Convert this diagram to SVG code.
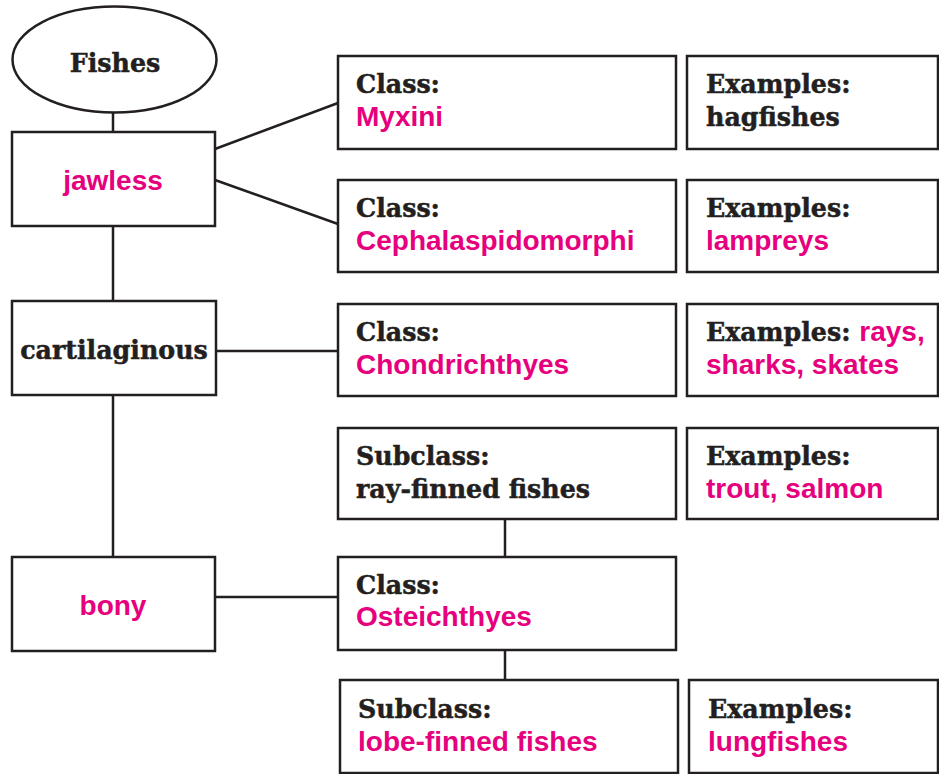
<svg xmlns="http://www.w3.org/2000/svg" width="939" height="774" viewBox="0 0 939 774">
<style>
.b{fill:#fff;stroke:#231f20;stroke-width:2.5}
.c{stroke:#231f20;stroke-width:2.5;fill:none}
.s{font-family:"DejaVu Serif",serif;font-weight:bold;font-size:25.3px;fill:#231f20;stroke:#231f20;stroke-width:0.5}
.p{font-family:"Liberation Sans",Arial,sans-serif;font-weight:bold;font-size:28px;fill:#e6007e}
.m{text-anchor:middle}
</style>
<rect width="939" height="774" fill="#fff"/>
<g id="connectors">
<line class="c" x1="113" y1="112" x2="113" y2="133"/>
<line class="c" x1="113" y1="226" x2="113" y2="301"/>
<line class="c" x1="113" y1="395" x2="113" y2="557"/>
<line class="c" x1="215" y1="149" x2="338" y2="103"/>
<line class="c" x1="215" y1="180" x2="338" y2="224"/>
<line class="c" x1="216" y1="351" x2="338" y2="351"/>
<line class="c" x1="215" y1="597" x2="338" y2="597"/>
<line class="c" x1="505" y1="519" x2="505" y2="557"/>
<line class="c" x1="505" y1="650" x2="505" y2="680"/>
</g>
<g id="fishes">
<ellipse class="b" cx="114.5" cy="59.5" rx="102" ry="53"/>
<text class="s m" x="115" y="72">Fishes</text>
</g>
<g id="jawless">
<rect class="b" x="12" y="132" width="203" height="94"/>
<text class="p m" x="113" y="190">jawless</text>
</g>
<g id="cartilaginous">
<rect class="b" x="12" y="301" width="204" height="94"/>
<text class="s m" x="114" y="359">cartilaginous</text>
</g>
<g id="bony">
<rect class="b" x="12" y="557" width="203" height="94"/>
<text class="p m" x="113" y="615">bony</text>
</g>
<g id="myxini">
<rect class="b" x="338" y="56" width="338" height="93"/>
<text class="s" x="356" y="93">Class:</text>
<text class="p" x="356" y="126">Myxini</text>
</g>
<g id="hagfishes">
<rect class="b" x="687" y="56" width="251" height="93"/>
<text class="s" x="706" y="93">Examples:</text>
<text class="s" x="706" y="126">hagfishes</text>
</g>
<g id="cephalaspidomorphi">
<rect class="b" x="338" y="180" width="338" height="92"/>
<text class="s" x="356" y="217">Class:</text>
<text class="p" x="356" y="250">Cephalaspidomorphi</text>
</g>
<g id="lampreys">
<rect class="b" x="687" y="180" width="251" height="92"/>
<text class="s" x="706" y="217">Examples:</text>
<text class="p" x="706" y="250">lampreys</text>
</g>
<g id="chondrichthyes">
<rect class="b" x="338" y="304" width="338" height="92"/>
<text class="s" x="356" y="341">Class:</text>
<text class="p" x="356" y="374">Chondrichthyes</text>
</g>
<g id="rays">
<rect class="b" x="687" y="304" width="251" height="92"/>
<text x="706" y="341"><tspan class="s">Examples: </tspan><tspan class="p">rays,</tspan></text>
<text class="p" x="706" y="374">sharks, skates</text>
</g>
<g id="rayfinned">
<rect class="b" x="338" y="428" width="338" height="91"/>
<text class="s" x="356" y="465">Subclass:</text>
<text class="s" x="356" y="498">ray-finned fishes</text>
</g>
<g id="trout">
<rect class="b" x="687" y="428" width="251" height="91"/>
<text class="s" x="706" y="465">Examples:</text>
<text class="p" x="706" y="498">trout, salmon</text>
</g>
<g id="osteichthyes">
<rect class="b" x="338" y="557" width="338" height="93"/>
<text class="s" x="356" y="594">Class:</text>
<text class="p" x="356" y="626">Osteichthyes</text>
</g>
<g id="lobefinned">
<rect class="b" x="340" y="680" width="338" height="93"/>
<text class="s" x="358" y="718">Subclass:</text>
<text class="p" x="358" y="751">lobe-finned fishes</text>
</g>
<g id="lungfishes">
<rect class="b" x="689" y="680" width="249" height="93"/>
<text class="s" x="708" y="718">Examples:</text>
<text class="p" x="708" y="751">lungfishes</text>
</g>
</svg>
